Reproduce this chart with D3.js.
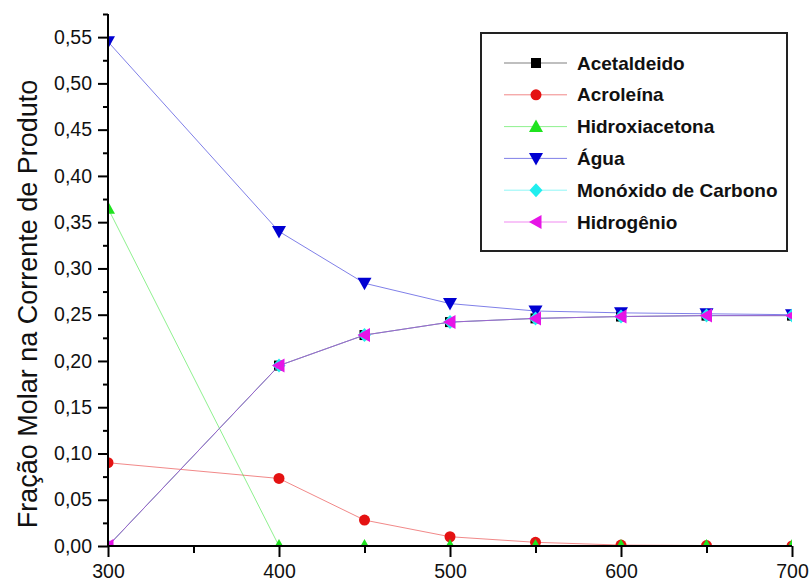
<!DOCTYPE html>
<html>
<head>
<meta charset="utf-8">
<script src="https://cdn.jsdelivr.net/npm/d3@7"></script>
<style>
  body { margin: 0; background: #fff; }
  svg { display: block; font-family: "Liberation Sans", Arial, sans-serif; }
  .axis path, .axis line { stroke: #000; }
</style>
</head>
<body>
<script>
(function(){

// temperatures (x) shared by all series
var temps = [300, 400, 450, 500, 550, 600, 650, 700];

// molar fractions
var acetaldeido    = [0.000, 0.195, 0.228, 0.242, 0.246, 0.248, 0.249, 0.249];
var acroleina      = [0.090, 0.073, 0.028, 0.010, 0.004, 0.001, 0.0005, 0.000];
var hidroxiacetona = [0.365, 0.000, 0.000, 0.000, 0.000, 0.000, 0.000, 0.000];
var agua           = [0.545, 0.340, 0.284, 0.262, 0.254, 0.252, 0.251, 0.250];
var monoxido       = [0.000, 0.195, 0.228, 0.242, 0.246, 0.248, 0.249, 0.249];
var hidrogenio     = [0.000, 0.195, 0.228, 0.242, 0.246, 0.248, 0.249, 0.249];

var seriesNames  = ["Acetaldeido", "Acroleína", "Hidroxiacetona", "Água", "Monóxido de Carbono", "Hidrogênio"];
var seriesValues = [acetaldeido, acroleina, hidroxiacetona, agua, monoxido, hidrogenio];
var seriesColors = ["#000000", "#e41212", "#1fe31f", "#0000d2", "#20eeee", "#e614e6"];
var seriesShapes = ["square", "circle", "up", "down", "diamond", "left"];

var xTicks = [300, 400, 500, 600, 700];
var yTicks = [0, 0.05, 0.10, 0.15, 0.20, 0.25, 0.30, 0.35, 0.40, 0.45, 0.50, 0.55];

var width = 811, height = 582;
var margin = {left: 108, right: 19, top: 14, bottom: 36};

var svg = d3.select("body").append("svg")
    .attr("width", width)
    .attr("height", height);

var x = d3.scaleLinear()
    .domain([300, 700])
    .range([margin.left, width - margin.right]);

var y = d3.scaleLinear()
    .domain([0, 0.575])
    .range([height - margin.bottom, margin.top]);

// marker path centred at 0,0
function markerPath(shape){
    switch (shape){
        case "square":  return "M-5,-5H5V5H-5Z";
        case "circle":  return "M-5.5,0A5.5,5.5 0 1,0 5.5,0A5.5,5.5 0 1,0 -5.5,0Z";
        case "up":      return "M0,-7L7,5.5H-7Z";
        case "down":    return "M0,7L7,-5.5H-7Z";
        case "diamond": return "M0,-7L6.5,0L0,7L-6.5,0Z";
        case "left":    return "M-7,0L5.5,-7V7Z";
    }
}

svg.append("clipPath")
    .attr("id", "plotClip")
  .append("rect")
    .attr("x", margin.left)
    .attr("y", margin.top)
    .attr("width", width - margin.left - margin.right)
    .attr("height", height - margin.top - margin.bottom);

var plot = svg.append("g").attr("clip-path", "url(#plotClip)");

var line = d3.line()
    .x(function(d){ return x(d[0]); })
    .y(function(d){ return y(d[1]); });

seriesValues.forEach(function(vals, s){
    var pts = temps.map(function(t, i){ return [t, vals[i]]; });
    var g = plot.append("g").attr("class", "series");

    g.append("path")
        .datum(pts)
        .attr("fill", "none")
        .attr("stroke", seriesColors[s])
        .attr("stroke-opacity", 0.5)
        .attr("stroke-width", 1)
        .attr("d", line);

    g.selectAll(".mark")
        .data(pts)
        .enter()
        .append("path")
        .attr("class", "mark")
        .attr("d", markerPath(seriesShapes[s]))
        .attr("transform", function(d){ return "translate(" + x(d[0]) + "," + y(d[1]) + ")"; })
        .attr("fill", seriesColors[s]);
});

// axes
var fmt = function(d){ return d3.format(".2f")(d).replace(".", ","); };

var yAxis = svg.append("g")
    .attr("class", "axis")
    .attr("transform", "translate(" + margin.left + ",0)")
    .call(d3.axisLeft(y).tickValues(yTicks).tickFormat(fmt).tickSize(10).tickPadding(6));
yAxis.selectAll("text").style("font-size", "19.5px").attr("fill", "#111");
yAxis.select(".domain").attr("stroke-width", 2).attr("d", "M0," + margin.top + "V" + y(0));
yAxis.selectAll(".tick line").attr("stroke-width", 2);

svg.append("g")
    .attr("class", "axis")
    .attr("transform", "translate(" + margin.left + ",0)")
    .call(d3.axisLeft(y).tickValues(d3.range(0.025, 0.6, 0.05)).tickFormat("").tickSize(5))
    .call(function(g){ g.select(".domain").remove(); })
    .selectAll("line").attr("stroke-width", 2);

var xAxis = svg.append("g")
    .attr("class", "axis")
    .attr("transform", "translate(0," + y(0) + ")")
    .call(d3.axisBottom(x).tickValues(xTicks).tickFormat(d3.format("d")).tickSize(11).tickPadding(7));
xAxis.selectAll("text").style("font-size", "19.5px").attr("fill", "#111");
xAxis.select(".domain").attr("stroke-width", 2).attr("d", "M" + margin.left + ",0H" + (width - margin.right));
xAxis.selectAll(".tick line").attr("stroke-width", 2);

svg.append("g")
    .attr("class", "axis")
    .attr("transform", "translate(0," + y(0) + ")")
    .call(d3.axisBottom(x).tickValues([350, 450, 550, 650]).tickFormat("").tickSize(7))
    .call(function(g){ g.select(".domain").remove(); })
    .selectAll("line").attr("stroke-width", 2);

// y axis title
svg.append("text")
    .attr("transform", "translate(37,304) rotate(-90)")
    .attr("text-anchor", "middle")
    .style("font-size", "27px")
    .attr("fill", "#111")
    .text("Fração Molar na Corrente de Produto");

// legend
var legend = svg.append("g").attr("class", "legend");

legend.append("rect")
    .attr("x", 481)
    .attr("y", 33)
    .attr("width", 306)
    .attr("height", 218)
    .attr("fill", "#fff")
    .attr("stroke", "#222")
    .attr("stroke-width", 2);

seriesNames.forEach(function(name, s){
    var ly = 63 + s * 31.8;
    legend.append("line")
        .attr("x1", 504).attr("x2", 567)
        .attr("y1", ly).attr("y2", ly)
        .attr("stroke", seriesColors[s])
        .attr("stroke-opacity", 0.5)
        .attr("stroke-width", 1);
    legend.append("path")
        .attr("d", markerPath(seriesShapes[s]))
        .attr("transform", "translate(536," + ly + ")")
        .attr("fill", seriesColors[s]);
    legend.append("text")
        .attr("x", 577)
        .attr("y", ly)
        .attr("dy", "0.35em")
        .style("font-size", "19px")
        .style("font-weight", "bold")
        .attr("fill", "#111")
        .text(name);
});

})();
</script>
</body>
</html>
